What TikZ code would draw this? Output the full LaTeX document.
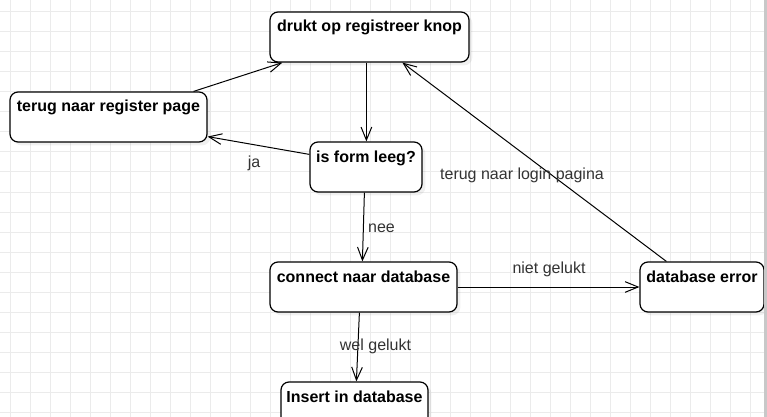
\documentclass[tikz,border=0pt]{standalone}
\usepackage{fontspec}
\setmainfont{Liberation Sans}
\usetikzlibrary{arrows.meta,calc,shadows}
\definecolor{gridgray}{RGB}{235,235,235}
\definecolor{bargray}{RGB}{200,200,200}
\definecolor{lblgray}{RGB}{51,51,51}
\begin{document}
\begin{tikzpicture}[x={(0.75pt,0)},y={(0,-0.75pt)},
  gridline/.style={draw=gridgray,line width=0.75pt},
  box/.style={draw=black,line width=0.9pt,rounded corners=6pt,fill=white,
    inner sep=0pt,text height=15pt,text depth=22.5pt,
    font=\fontsize{12pt}{14pt}\selectfont\bfseries,
    drop shadow={shadow xshift=2.5pt,shadow yshift=-2.5pt,fill=black,opacity=0.06}},
  edge/.style={draw=black,line width=0.75pt,-{Straight Barb[length=9.75pt,width=8pt]}},
  elabel/.style={anchor=base,inner sep=0pt,text=lblgray,font=\fontsize{12pt}{14pt}\selectfont}]
\useasboundingbox (0,0) rectangle (767,417);
\clip (0,0) rectangle (767,417);
\fill[white] (0,0) rectangle (767,417);
\foreach \x in {10,30,...,750} \draw[gridline] (\x,0) -- (\x,417);
\foreach \y in {12,32,...,412} \draw[gridline] (0,\y) -- (767,\y);

\node[box,minimum width=149.25pt] (drukt) at (369.5,37) {drukt op registreer knop};
\node[box,minimum width=147.75pt] (terug) at (108.5,117) {terug naar register page};
\node[box,minimum width=84pt] (isform) at (366,167) {is form leeg?};
\node[box,minimum width=140.25pt] (connect) at (363.5,287) {connect naar database};
\node[box,minimum width=93pt] (dberror) at (702,287) {database error};
\node[box,minimum width=110.25pt] (insert) at (354.5,407) {Insert in database};

\draw[edge] ($(terug.north east)+(-14,0)$) -- ($(drukt.south west)+(13,0)$);
\draw[edge] ($(drukt.south west)+(97,0)$) -- ($(isform.north west)+(57,0)$);
\draw[edge] ($(isform.north west)+(0,13)$) -- ($(terug.south east)+(0,-6)$);
\draw[edge] ($(isform.south west)+(55,0)$) -- ($(connect.north west)+(93,0)$);
\draw[edge] (connect.east) -- (dberror.west);
\draw[edge] ($(connect.south west)+(90,0)$) -- ($(insert.north west)+(76,0)$);
\draw[edge] ($(dberror.north west)+(27,0)$) -- ($(drukt.south west)+(133,0)$);

\node[elabel] (lja) at (254,167) {ja};
\node[elabel] (lnee) at (381.5,232) {nee};
\node[elabel] (lniet) at (549,273.5) {niet gelukt};
\node[elabel] (lwel) at (375.5,350) {wel gelukt};
\node[elabel] (llogin) at (522,180) {terug naar login pagina};

\fill[bargray] (763.8,0) rectangle (767,417);
\end{tikzpicture}
\end{document}
